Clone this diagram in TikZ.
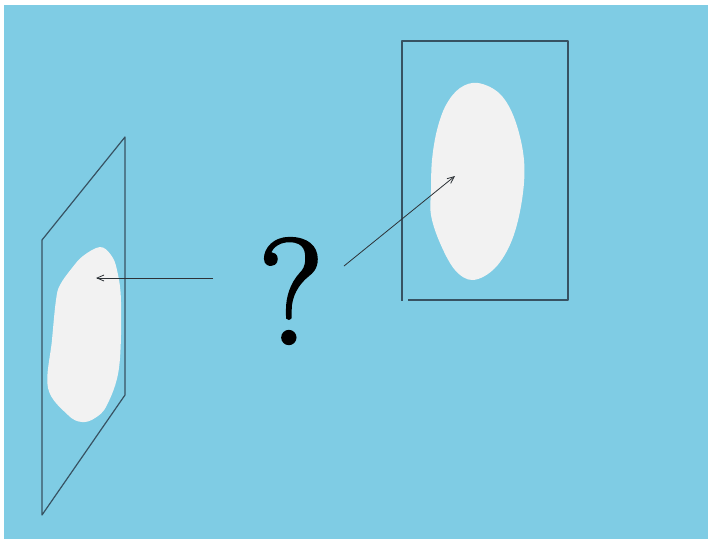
\documentclass[tikz,border=0pt]{standalone}
\usepackage{tikz}
\usetikzlibrary{positioning}
\usetikzlibrary{arrows.meta}
\definecolor{sky}{RGB}{127,204,228}
\definecolor{blob}{RGB}{242,242,242}
\definecolor{frame}{RGB}{55,82,98}
\definecolor{pointer}{RGB}{45,50,55}
\newcommand{\heavytext}[1]{\special{pdf:literal direct 2 Tr 3 w}#1\special{pdf:literal direct 0 Tr 1 w}}

\begin{document}
\begin{tikzpicture}[
    x=1pt, y=-1pt,
    plane/.style={draw=frame, line width=1.2pt, line join=round},
    shadow/.style={fill=blob, draw=none},
    pointer/.style={draw=pointer, line width=0.8pt, -{Straight Barb[length=7pt, width=6pt]}},
    >=latex
]
    \useasboundingbox (0,0) rectangle (708,539);
    \fill[sky] (4,5) rectangle (708,539);

    % tilted plane on the left
    \draw[plane] (42,240) -- (125,137) -- (125,395) -- (42,515) -- cycle;
    \fill[shadow] plot[smooth cycle, tension=0.6] coordinates {
        (100,247) (111,255) (117,270) (121,302) (119,368) (107,405)
        (95,418) (82,422) (68,415) (48,388) (52,340) (56,300)
        (60,285) (72,268) (83,256)};

    % upright plane on the right
    \draw[plane] (408,300) -- (568,300) -- (568,41) -- (402,41) -- (402,301);
    \fill[shadow] plot[smooth cycle, tension=0.6] coordinates {
        (478,83) (500,94) (515,120) (524,160) (522,200) (512,240)
        (495,268) (473,280) (455,270) (440,243) (431,215) (431,190)
        (432,160) (437,130) (446,105) (460,88)};

    \node[inner sep=0pt, draw=none, text=black, font=\fontsize{150}{150}\selectfont] (ask) at (291,291) {\heavytext{?}};

    \coordinate (left tail) at (213,278);
    \coordinate (left tip) at (96,278);
    \coordinate (right tail) at (344,266);
    \coordinate (right tip) at (455,176);

    \draw[pointer] (left tail) -- (left tip);
    \draw[pointer] (right tail) -- (right tip);
\end{tikzpicture}
\end{document}
